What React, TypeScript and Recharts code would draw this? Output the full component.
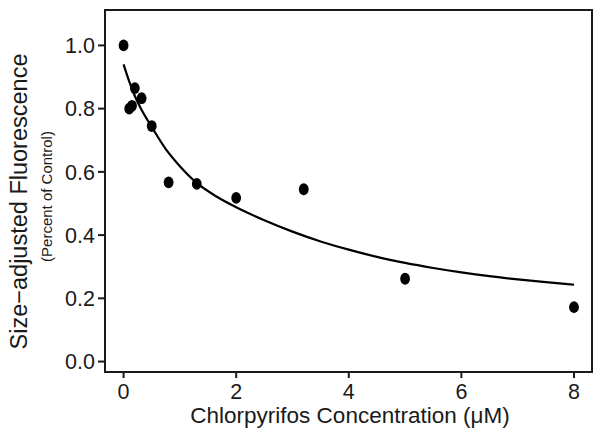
import React from 'react'
import {
  ComposedChart,
  Scatter,
  Line,
  XAxis,
  YAxis,
  ReferenceArea,
} from 'recharts'

// measured points: concentration (µM) vs size-adjusted fluorescence
const concentrations = [0, 0.1, 0.15, 0.2, 0.32, 0.5, 0.8, 1.3, 2, 3.2, 5, 8]
const fluorescence = [1.0, 0.8, 0.809, 0.865, 0.833, 0.745, 0.567, 0.562, 0.518, 0.545, 0.262, 0.172]

// fitted curve
const curveX = [0, 0.1, 0.2, 0.3, 0.5, 0.75, 1, 1.3, 1.65, 2, 2.5, 3, 3.5, 4, 4.5, 5, 5.5, 6, 6.5, 7, 7.5, 8]
const curveY = [0.94, 0.886, 0.84, 0.803, 0.742, 0.672, 0.618, 0.565, 0.522, 0.488, 0.447, 0.411, 0.38, 0.354, 0.331, 0.312, 0.296, 0.282, 0.27, 0.26, 0.251, 0.243]

const xTicks = [0, 2, 4, 6, 8]
const yTicks = [0, 0.2, 0.4, 0.6, 0.8, 1.0]

const X_DOMAIN: [number, number] = [-0.33, 8.32]
const Y_DOMAIN: [number, number] = [-0.033, 1.112]

const INK = '#1a1a1a'
const FONT = '"Liberation Sans", Arial, Helvetica, sans-serif'

const points = concentrations.map((x, i) => ({ x, y: fluorescence[i] }))
const curve = curveX.map((x, i) => ({ x, y: curveY[i] }))

const Dot = (props: any) => {
  const { cx, cy } = props
  if (cx == null || cy == null) return null
  return <ellipse cx={cx} cy={cy} rx={4.9} ry={5.9} fill='#000' />
}

export default function App() {
  return (
    <div
      style={{
        position: 'absolute',
        left: 0,
        top: 0,
        width: 602,
        height: 436,
        background: '#fff',
        fontFamily: FONT,
      }}
    >
      <ComposedChart
        width={602}
        height={436}
        margin={{ top: 10, right: 10, bottom: 0, left: 0 }}
      >
        <XAxis
          type='number'
          dataKey='x'
          domain={X_DOMAIN}
          allowDataOverflow
          ticks={xTicks}
          height={64}
          tickSize={6}
          tickMargin={6}
          axisLine={{ stroke: INK, strokeWidth: 2 }}
          tickLine={{ stroke: INK, strokeWidth: 2 }}
          tick={{ fontSize: 21.5, fill: INK, fontFamily: FONT }}
          label={{
            content: () => (
              <text
                x={350}
                y={422.5}
                textAnchor='middle'
                fontSize={22.5}
                fill={INK}
                fontFamily={FONT}
              >
                Chlorpyrifos Concentration (μM)
              </text>
            ),
          }}
        />
        <YAxis
          type='number'
          dataKey='y'
          domain={Y_DOMAIN}
          allowDataOverflow
          ticks={yTicks}
          width={105}
          tickSize={7}
          tickMargin={3}
          tickFormatter={(v: number) => v.toFixed(1)}
          axisLine={{ stroke: INK, strokeWidth: 2 }}
          tickLine={{ stroke: INK, strokeWidth: 2 }}
          tick={{ fontSize: 21.5, fill: INK, fontFamily: FONT }}
          label={{
            content: () => (
              <g>
                <text
                  x={27}
                  y={201.5}
                  transform='rotate(-90, 27, 201.5)'
                  textAnchor='middle'
                  fontSize={23.5}
                  fill={INK}
                  fontFamily={FONT}
                >
                  Size−adjusted Fluorescence
                </text>
                <text
                  x={52}
                  y={196.5}
                  transform='rotate(-90, 52, 196.5)'
                  textAnchor='middle'
                  fontSize={15}
                  fill={INK}
                  fontFamily={FONT}
                >
                  (Percent of Control)
                </text>
              </g>
            ),
          }}
        />
        <ReferenceArea
          x1={X_DOMAIN[0]}
          x2={X_DOMAIN[1]}
          y1={Y_DOMAIN[0]}
          y2={Y_DOMAIN[1]}
          fill='none'
          stroke={INK}
          strokeWidth={2}
          ifOverflow='visible'
        />
        <Line
          data={curve}
          dataKey='y'
          type='monotone'
          stroke='#000'
          strokeWidth={2.2}
          dot={false}
          activeDot={false}
          isAnimationActive={false}
        />
        <Scatter
          data={points}
          dataKey='y'
          shape={Dot}
          isAnimationActive={false}
        />
      </ComposedChart>
    </div>
  )
}
